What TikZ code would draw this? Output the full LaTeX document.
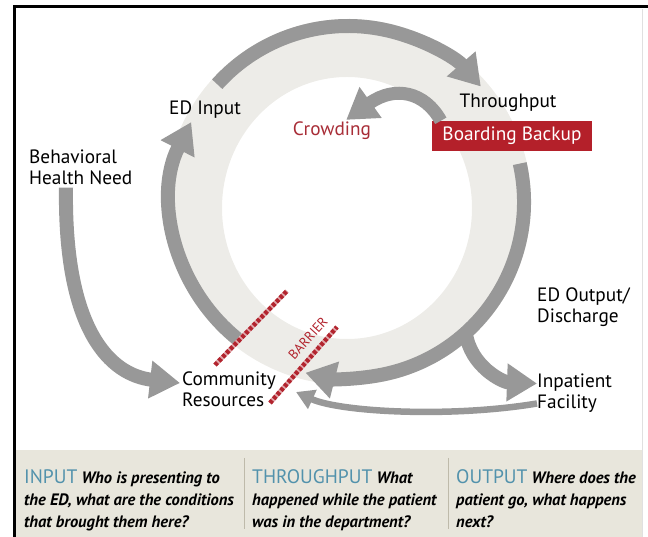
\documentclass[tikz,border=0pt]{standalone}
\usepackage{fontspec}
\setmainfont{PT Sans}
\usetikzlibrary{arrows.meta,positioning}
\definecolor{arrowgray}{RGB}{152,152,152}
\definecolor{ringgray}{RGB}{237,236,232}
\definecolor{boxred}{RGB}{180,32,42}
\definecolor{crowdred}{RGB}{168,45,55}
\definecolor{fencered}{RGB}{178,36,46}
\definecolor{panelbg}{RGB}{232,230,220}
\definecolor{sepline}{RGB}{190,186,170}
\definecolor{headblue}{RGB}{82,146,172}
\newcommand\colhead[1]{{\upshape\mdseries\fontsize{19.5}{22}\selectfont\color{headblue}#1}}

\begin{document}
\begin{tikzpicture}[x=1pt,y=1pt,
    lbl/.style={inner sep=0pt,align=left,font=\fontsize{19.3}{21}\selectfont},
    big/.style={draw=arrowgray,line width=14pt,-{Triangle[width=36pt,length=30pt]}},
    slim/.style={draw=arrowgray,line width=6.5pt,-{Triangle[width=20pt,length=18pt]}},
    fence/.style={draw=fencered,line width=4.5pt,dash pattern=on 3.5pt off 2pt,
      preaction={draw=fencered!40,line width=4.5pt,solid}},
    col/.style={inner sep=0pt,anchor=north west,align=left,font=\fontsize{16.5}{22}\selectfont\bfseries\itshape}]
  \useasboundingbox (0,0) rectangle (648,537);

  % frame and bottom panel
  \fill[panelbg] (15,0) rectangle (642,87);
  \draw[black!12,line width=0.6pt] (642,0) -- (642,528);
  \draw[line width=3pt] (14,0) -- (14,530) -- (648,530);
  \draw[sepline,line width=0.8pt] (244,79) -- (244,8);
  \draw[sepline,line width=0.8pt] (448,79) -- (448,8);

  % ring
  \coordinate (C) at (348,335);
  \fill[ringgray,even odd rule] (C) circle[radius=183] (347,329) ellipse[x radius=125,y radius=131];

  % labels
  \node[lbl]              (edin)  at (205,427)   {ED Input};
  \node[lbl,anchor=west]  (bhn)   at (29,370)    {Behavioral\\Health Need};
  \node[lbl]              (tp)    at (508,434)   {Throughput};
  \node[lbl,fill=boxred,text=white,minimum width=160pt,minimum height=30pt]
                          (bb)    at (512,401)   {Boarding Backup};
  \node[lbl,text=crowdred] (crowd) at (332,406)  {Crowding};
  \node[lbl,anchor=west]  (edout) at (537,229.5) {ED Output/\\Discharge};
  \node[lbl,anchor=west]  (inpat) at (537,143.5) {Inpatient\\Facility};
  \node[lbl,anchor=west]  (comm)  at (182,148)   {Community\\Resources};

  % flows
  \draw[big] ([shift={(138:176)}]C) arc[start angle=138,end angle=41,radius=176];
  \draw[big] ([shift={(231:176)}]C) arc[start angle=231,end angle=153,radius=176];
  \draw[big] ([shift={(12.6:176)}]C) arc[start angle=12.6,end angle=-104,radius=176];
  \draw[big] ([shift={(-48:176)}]C) to[out=-82,in=178] ([yshift=10pt]inpat.west);
  \draw[slim] ([yshift=-10pt]inpat.west) .. controls (450,119) and (340,125) .. (296,145);
  \draw[big] ([xshift=37pt,yshift=-3pt]bhn.south west) .. controls (64,207) and (110,162) .. ([xshift=-2pt,yshift=6pt]comm.west);
  \draw[big,line width=13pt] ([xshift=9pt]bb.north west) .. controls (425,445) and (395,452) .. ([xshift=-25pt,yshift=2pt]crowd.north east);

  % barrier
  \draw[fence] (215,172) -- (287,246);
  \draw[fence] (270,134) -- (337,210);
  \node[text=fencered,font=\fontsize{13.5}{13.5}\selectfont,rotate=48,inner sep=0pt] (bar) at (308,199) {BARRIER};

  % questions
  \node[col] (qin)  at (24,67.5)  {\colhead{INPUT} Who is presenting to\\the ED, what are the conditions\\that brought them here?};
  \node[col] (qthr) at (252,67.5) {\colhead{THROUGHPUT} What\\happened while the patient\\was in the department?};
  \node[col] (qout) at (456,67.5) {\colhead{OUTPUT} Where does the\\patient go, what happens\\next?};
\end{tikzpicture}
\end{document}
